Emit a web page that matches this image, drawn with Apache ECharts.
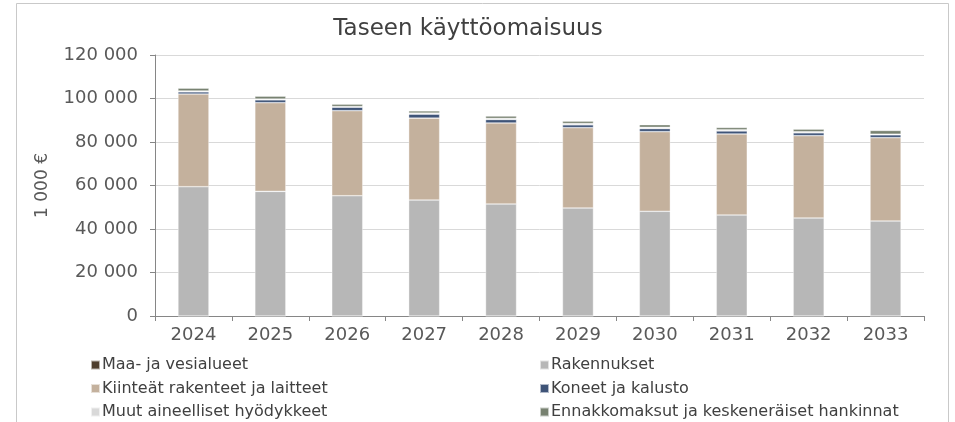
<!DOCTYPE html>
<html>
<head>
<meta charset="utf-8">
<script src="https://cdn.jsdelivr.net/npm/echarts@6/dist/echarts.min.js"></script>
<style>
  html, body { margin: 0; padding: 0; background: #ffffff; }
  #chart { width: 955px; height: 422px; }
</style>
</head>
<body>
<div id="chart"></div>
<script>
// vuodet
const years = ['2024', '2025', '2026', '2027', '2028', '2029', '2030', '2031', '2032', '2033'];

// arvot 1000 €
const maa = [0, 0, 0, 0, 0, 0, 0, 0, 0, 0];
const rakennukset = [59450, 57300, 55300, 53300, 51500, 49650, 48130, 46440, 45060, 43680];
const kiinteat = [42600, 40770, 39100, 37700, 37240, 36940, 36620, 37240, 37850, 38310];
const koneet = [1000, 1300, 1600, 1800, 1600, 1300, 1400, 1400, 1300, 1300];
const muut = [400, 400, 300, 500, 500, 600, 600, 500, 500, 300];
const ennakko = [1300, 1300, 1100, 1000, 1100, 1100, 1200, 1100, 1200, 1700];

const seriesNames = [
  'Maa- ja vesialueet',
  'Rakennukset',
  'Kiinteät rakenteet ja laitteet',
  'Koneet ja kalusto',
  'Muut aineelliset hyödykkeet',
  'Ennakkomaksut ja keskeneräiset hankinnat'
];
const seriesData = [maa, rakennukset, kiinteat, koneet, muut, ennakko];
const colors = ['#4e3d2c', '#b7b7b7', '#c4b19d', '#3f5478', '#d9d9d9', '#788271'];

const fmt = function (v) {
  return String(v).replace(/\B(?=(\d{3})+(?!\d))/g, ' ');
};

const legendText = { fontFamily: 'DejaVu Sans', fontSize: 16, color: '#404040', lineHeight: 16, padding: [0, 0, 0, -3] };

const option = {
  animation: false,
  backgroundColor: '#ffffff',
  color: colors,
  title: {
    text: 'Taseen käyttöomaisuus',
    left: 463,
    top: 13,
    textAlign: 'center',
    textStyle: { fontFamily: 'DejaVu Sans', fontSize: 23, fontWeight: 'normal', color: '#404040' }
  },
  graphic: [
    {
      type: 'rect',
      shape: { x: 16.5, y: 3.5, width: 932, height: 440 },
      style: { fill: 'none', stroke: '#c9c9c9', lineWidth: 1 },
      silent: true
    }
  ],
  legend: [
    {
      orient: 'vertical',
      left: 90,
      top: 357,
      padding: 0,
      itemWidth: 9,
      itemHeight: 9,
      itemGap: 7.5,
      icon: 'rect',
      textStyle: legendText,
      data: [seriesNames[0], seriesNames[2], seriesNames[4]]
    },
    {
      orient: 'vertical',
      left: 539,
      top: 357,
      padding: 0,
      itemWidth: 9,
      itemHeight: 9,
      itemGap: 7.5,
      icon: 'rect',
      textStyle: legendText,
      data: [seriesNames[1], seriesNames[3], seriesNames[5]]
    }
  ],
  grid: { left: 155, right: 31, top: 55, bottom: 106, containLabel: false },
  xAxis: {
    type: 'category',
    data: years,
    axisLine: { lineStyle: { color: '#868686', width: 1 } },
    axisTick: { show: true, length: 5, inside: false, lineStyle: { color: '#868686' } },
    axisLabel: { fontFamily: 'DejaVu Sans', fontSize: 18, color: '#595959', margin: 10 }
  },
  yAxis: {
    type: 'value',
    min: 0,
    max: 120000,
    interval: 20000,
    name: '1 000 €',
    nameLocation: 'middle',
    nameGap: 104,
    nameRotate: 90,
    nameTextStyle: { fontFamily: 'DejaVu Sans', fontSize: 17, color: '#595959' },
    axisLine: { show: true, lineStyle: { color: '#868686', width: 1 } },
    axisTick: { show: true, length: 5, lineStyle: { color: '#868686' } },
    axisLabel: { fontFamily: 'DejaVu Sans', fontSize: 18, color: '#595959', margin: 17, formatter: fmt },
    splitLine: { lineStyle: { color: '#d9d9d9', width: 1 } }
  },
  series: seriesNames.map(function (name, i) {
    return {
      name: name,
      type: 'bar',
      stack: 'total',
      barWidth: 31,
      data: seriesData[i],
      itemStyle: { borderColor: 'rgba(255,255,255,0.6)', borderWidth: 0.6 }
    };
  })
};

const chart = echarts.init(document.getElementById('chart'));
chart.setOption(option);
</script>
</body>
</html>
